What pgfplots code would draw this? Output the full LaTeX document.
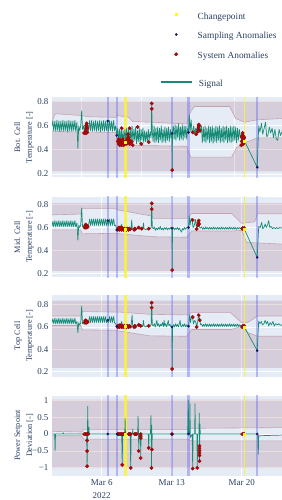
\documentclass[border=0pt]{standalone}
\usepackage{fontspec}
\setmainfont{Liberation Serif}
\usepackage{pgfplots}
\pgfplotsset{compat=1.18}
\usepgfplotslibrary{fillbetween}
\definecolor{plotbg}{HTML}{E5ECF6}
\definecolor{darkov}{RGB}{150,90,110}
\definecolor{bandln}{RGB}{196,164,176}
\definecolor{sigc}{RGB}{22,140,118}
\definecolor{sysc}{RGB}{160,10,10}
\definecolor{smpc}{RGB}{20,20,110}
\definecolor{cpc}{RGB}{255,255,0}
\definecolor{vblue}{RGB}{100,100,240}
\definecolor{vyel}{RGB}{255,245,40}
\definecolor{txt}{HTML}{2A3F5F}
\pgfplotsset{
 panel/.style={
  scale only axis, width=230bp, anchor=north west,
  xmin=0.03, xmax=23.03,
  axis background/.style={fill=plotbg},
  axis line style={draw=none},
  major tick length=0pt,
  grid=major, grid style={white, line width=0.9bp},
  tick label style={font=\fontsize{9}{10}\selectfont, text=txt},
  every axis y label/.style={at={(axis description cs:-0.1217,0.5)}, rotate=90, anchor=center, align=center, font=\fontsize{8.3}{12}\selectfont, text=txt},
  xtick={5,12,19}, xticklabels={},
  ytick={0.2,0.4,0.6,0.8}, yticklabels={0.2,0.4,0.6,0.8},
  clip=true,
 },
 sig/.style={color=sigc, line width=0.7bp, line join=round, mark=none},
 sys/.style={only marks, mark=*, mark size=1.7bp, color=sysc},
 smp/.style={only marks, mark=*, mark size=1.1bp, color=smpc},
 cp/.style={only marks, mark=square*, mark size=1bp, color=cpc},
 bl/.style={color=bandln, line width=0.6bp, mark=none},
 dk/.style={fill=darkov, fill opacity=0.2, draw=none},
 leg/.style={draw=none, fill=none, inner sep=0pt, outer sep=0pt, row sep=10.8bp, column sep=6bp, font=\fontsize{9.4}{11}\selectfont, text=txt, nodes={inner sep=0pt, text height=6.5bp, text depth=2.5bp}},
}
\newcommand{\vb}[4]{\addplot[fill=#3, fill opacity=#4, draw=none, forget plot] coordinates {(#1,-5) (#2,-5) (#2,5) (#1,5)};}
\newcommand{\vbands}{%
 \vb{5.5}{5.72}{vblue}{0.4}%
 \vb{6.44}{6.66}{vblue}{0.4}%
 \vb{7.26}{7.48}{vyel}{0.8}%
 \vb{11.92}{12.14}{vblue}{0.4}%
 \vb{13.57}{13.79}{vblue}{0.4}%
 \vb{19.2}{19.33}{vyel}{0.8}%
 \vb{20.44}{20.66}{vblue}{0.4}%
}
\begin{document}
\begin{tikzpicture}
% ---------------- Panel 1 ----------------
\begin{axis}[panel, at={(52bp,-97.3bp)}, height=80bp, ymin=0.173, ymax=0.836,
  xtick={3,9,18.3},
  ylabel={Bot. Cell\\Temperature [-]},
  legend style={leg, at={(axis description cs:0.4726,2.058)}, anchor=north west},
  legend cell align=left,
  legend image code/.code={\path[draw=none, fill=none] (0bp,0bp) -- (31bp,0bp); \path[#1, draw=none] plot[only marks] coordinates {(15.5bp,2.5bp)};}]
\addlegendimage{cp}\addlegendentry{Changepoint}
\addlegendimage{smp}\addlegendentry{Sampling Anomalies}
\addlegendimage{sys}\addlegendentry{System Anomalies}
\addplot[draw=none, name path=T1, forget plot] coordinates {(0.03,0.805) (23.03,0.805)};
\addplot[draw=none, name path=B1, forget plot] coordinates {(0.03,0.222) (23.03,0.222)};
\addplot[bl, name path=U1, forget plot] coordinates {(0.03,0.63)(0.35,0.70)(3.0,0.685)(3.6,0.675)(6.4,0.67)(6.55,0.685)(7.7,0.67)(8.1,0.635)(10.0,0.63)(13.5,0.615)(13.9,0.72)(14.3,0.76)(17.8,0.76)(18.4,0.66)(19.3,0.63)(20.6,0.65)(23.03,0.66)};
\addplot[bl, name path=L1, forget plot] coordinates {(0.03,0.555)(3.0,0.548)(6.4,0.545)(6.6,0.44)(13.5,0.43)(13.9,0.34)(18.0,0.34)(18.5,0.42)(19.3,0.46)(20.6,0.5)(23.03,0.5)};
\addplot[dk, forget plot] fill between[of=T1 and U1];
\addplot[dk, forget plot] fill between[of=L1 and B1];
\vbands
\addplot[sig, forget plot] coordinates {
(0.03,0.60) (0.12,0.64) (0.2,0.56) (0.32,0.64) (0.4,0.555) (0.52,0.645) (0.6,0.56) (0.72,0.64) (0.8,0.55) (0.92,0.64) (1.0,0.56) (1.12,0.645) (1.2,0.555) (1.32,0.64) (1.4,0.56) (1.52,0.64) (1.6,0.545) (1.72,0.645) (1.8,0.56) (1.92,0.64) (2.0,0.555) (2.12,0.64) (2.2,0.56) (2.32,0.645) (2.4,0.555) (2.52,0.63) (2.62,0.41) (2.7,0.6) (2.8,0.56) (2.9,0.6) (3.0,0.725) (3.08,0.57) (3.18,0.6) (3.28,0.54) (3.38,0.62) (3.48,0.55) (3.58,0.62) (3.68,0.555)
(3.8,0.645) (3.88,0.56) (4.0,0.645) (4.08,0.555) (4.2,0.64) (4.28,0.56) (4.4,0.645) (4.48,0.555) (4.6,0.64) (4.68,0.56) (4.8,0.645) (4.88,0.55) (5.0,0.64) (5.08,0.56) (5.2,0.645) (5.28,0.555) (5.4,0.64) (5.48,0.56) (5.61,0.64) (5.68,0.555) (5.8,0.645) (5.88,0.56) (6.0,0.64) (6.08,0.555) (6.2,0.645) (6.28,0.56) (6.4,0.6) (6.5,0.52)
(6.6,0.58) (6.68,0.47) (6.78,0.57) (6.86,0.46) (6.96,0.58) (7.04,0.47) (7.14,0.56) (7.22,0.46) (7.32,0.57) (7.4,0.48) (7.5,0.58) (7.58,0.45) (7.68,0.58) (7.76,0.46) (7.86,0.57) (7.94,0.47) (8.04,0.6) (8.12,0.46) (8.22,0.57) (8.3,0.48) (8.4,0.59) (8.48,0.45) (8.58,0.56) (8.66,0.47) (8.76,0.58) (8.84,0.45) (8.94,0.57) (9.02,0.48) (9.12,0.58) (9.2,0.46) (9.3,0.56) (9.38,0.47) (9.48,0.55) (9.56,0.47) (9.66,0.57) (9.74,0.48) (9.84,0.55) (9.94,0.5) (10.0,0.785) (10.06,0.55) (10.14,0.47) (10.24,0.6) (10.32,0.46) (10.42,0.58) (10.5,0.47) (10.6,0.59) (10.68,0.46) (10.78,0.58) (10.86,0.48) (10.96,0.6) (11.04,0.46) (11.14,0.57) (11.22,0.47) (11.32,0.59) (11.4,0.46) (11.5,0.58) (11.58,0.48) (11.68,0.59) (11.76,0.47) (11.86,0.57) (11.94,0.5)
(12.03,0.537) (12.05,0.233) (12.08,0.55)
(12.16,0.6) (12.24,0.49) (12.34,0.61) (12.42,0.48) (12.52,0.6) (12.6,0.5) (12.7,0.62) (12.78,0.48) (12.88,0.59) (12.96,0.49) (13.06,0.61) (13.14,0.48) (13.24,0.6) (13.32,0.5) (13.42,0.6) (13.5,0.49) (13.6,0.58) (13.68,0.545)
(13.76,0.69) (13.84,0.55) (13.94,0.65) (14.02,0.56) (14.1,0.545) (14.2,0.6) (14.3,0.53) (14.4,0.58) (14.48,0.53) (14.58,0.61) (14.68,0.55) (14.78,0.6) (14.88,0.545)
(14.98,0.6) (15.06,0.46) (15.16,0.59) (15.24,0.47) (15.34,0.6) (15.42,0.46) (15.52,0.58) (15.6,0.48) (15.7,0.6) (15.78,0.46) (15.88,0.59) (15.96,0.47) (16.06,0.6) (16.14,0.455) (16.24,0.58) (16.32,0.47) (16.42,0.6) (16.5,0.46) (16.6,0.59) (16.68,0.48) (16.78,0.6) (16.86,0.46) (16.96,0.58) (17.04,0.47) (17.14,0.6) (17.22,0.46) (17.32,0.59) (17.4,0.48) (17.5,0.6) (17.58,0.46) (17.68,0.58) (17.76,0.47) (17.86,0.6) (17.94,0.46) (18.04,0.59) (18.12,0.47) (18.22,0.6) (18.3,0.48) (18.4,0.59) (18.48,0.46) (18.58,0.58) (18.66,0.48) (18.76,0.57) (18.86,0.5)
(18.96,0.53) (19.06,0.44) (19.16,0.52) (19.27,0.476) (20.55,0.256)
(20.7,0.6) (20.82,0.55) (20.98,0.62) (21.1,0.53) (21.22,0.57) (21.38,0.63) (21.5,0.51) (21.62,0.52) (21.76,0.59) (21.9,0.54) (22.04,0.58) (22.18,0.5) (22.32,0.57) (22.46,0.49) (22.6,0.48) (22.74,0.57) (22.88,0.52) (23.03,0.55)};
\addplot[sys, forget plot] coordinates {
(3.25,0.54)(3.35,0.54)(3.45,0.54)(3.55,0.545)(3.4,0.56)(3.45,0.58)(3.45,0.6)(3.5,0.62)(3.5,0.6)(3.55,0.58)
(6.6,0.47)(6.7,0.45)(6.7,0.49)(6.8,0.44)(6.8,0.47)(6.9,0.45)(6.9,0.48)(7.0,0.44)(7.0,0.47)(7.1,0.45)(7.1,0.49)(7.2,0.44)(7.2,0.47)(7.3,0.46)(7.45,0.45)(7.5,0.48)(7.6,0.46)(7.6,0.5)(7.65,0.53)(7.7,0.47)(7.7,0.5)(7.8,0.45)(7.8,0.48)(7.9,0.46)(8.0,0.47)
(7.0,0.58)(7.8,0.58)(8.6,0.59)(8.1,0.44)(8.95,0.45)(9.7,0.465)(10.0,0.785)(10.0,0.74)(12.05,0.233)
(14.1,0.545)(14.45,0.53)(14.6,0.55)(14.65,0.57)(14.7,0.59)(14.7,0.61)(14.75,0.6)(14.8,0.56)
(18.95,0.44)(19.0,0.47)(19.05,0.5)(19.1,0.52)(19.15,0.45)(19.2,0.48)(19.2,0.51)(19.25,0.5)(19.0,0.51)(19.1,0.54)(19.05,0.445)(19.15,0.49)};
\addplot[smp, forget plot] coordinates {(5.61,0.64)(6.5,0.52)(12.03,0.537)(13.68,0.545)(20.55,0.256)};
\addplot[cp, forget plot] coordinates {(7.37,0.46)(19.27,0.476)};
\end{axis}
% ---------------- Panel 2 ----------------
\begin{axis}[panel, at={(52bp,-196.7bp)}, height=80.6bp, ymin=0.167, ymax=0.868,
  ylabel={Mid. Cell\\Temperature [-]},
  legend style={leg, at={(axis description cs:0.4726,2.448)}, anchor=north west},
  legend cell align=left,
  legend image code/.code={\draw[#1, line width=1.2bp] (0bp,2.5bp) -- (31bp,2.5bp);}]
\addlegendimage{sig}\addlegendentry{Signal}
\addplot[draw=none, name path=T2, forget plot] coordinates {(0.03,0.813) (23.03,0.813)};
\addplot[draw=none, name path=B2, forget plot] coordinates {(0.03,0.222) (23.03,0.222)};
\addplot[bl, name path=U2, forget plot] coordinates {(0.03,0.71)(2.9,0.717)(3.05,0.767)(6.3,0.767)(6.6,0.753)(10.0,0.7)(10.15,0.68)(13.5,0.68)(14.0,0.722)(18.0,0.722)(19.0,0.636)(20.3,0.65)(20.6,0.72)(23.03,0.72)};
\addplot[bl, name path=L2, forget plot] coordinates {(0.03,0.58)(2.9,0.58)(3.05,0.545)(6.3,0.55)(10.0,0.52)(13.5,0.515)(14.0,0.57)(18.0,0.57)(19.0,0.575)(19.5,0.47)(23.03,0.456)};
\addplot[dk, forget plot] fill between[of=T2 and U2];
\addplot[dk, forget plot] fill between[of=L2 and B2];
\vbands
\addplot[sig, forget plot] coordinates {
(0.03,0.61) (0.12,0.655) (0.2,0.607) (0.32,0.66) (0.4,0.605) (0.52,0.655) (0.6,0.607) (0.72,0.66) (0.8,0.605) (0.92,0.655) (1.0,0.607) (1.12,0.66) (1.2,0.605) (1.32,0.655) (1.4,0.607) (1.52,0.66) (1.6,0.605) (1.72,0.655) (1.8,0.607) (1.92,0.66) (2.0,0.605) (2.12,0.655) (2.2,0.607) (2.32,0.66) (2.4,0.605) (2.52,0.64) (2.62,0.49) (2.7,0.62) (2.8,0.6) (2.9,0.62) (3.0,0.77) (3.08,0.61) (3.18,0.6) (3.28,0.63) (3.38,0.6) (3.48,0.625) (3.58,0.605) (3.68,0.62)
(3.8,0.675) (3.88,0.618) (4.0,0.675) (4.08,0.62) (4.2,0.675) (4.28,0.618) (4.4,0.675) (4.48,0.62) (4.6,0.675) (4.68,0.618) (4.8,0.675) (4.88,0.62) (5.0,0.675) (5.08,0.618) (5.2,0.675) (5.28,0.62) (5.4,0.675) (5.48,0.618) (5.61,0.66) (5.68,0.62) (5.8,0.675) (5.88,0.618) (6.0,0.675) (6.08,0.62) (6.2,0.675) (6.28,0.618) (6.4,0.62) (6.5,0.578)
(6.6,0.59) (6.7,0.58) (6.8,0.595) (6.9,0.585) (7.0,0.63) (7.06,0.59) (7.2,0.585) (7.35,0.595) (7.5,0.585) (7.65,0.59) (7.8,0.58) (7.94,0.59) (8.0,0.665) (8.06,0.59) (8.2,0.585) (8.35,0.6) (8.5,0.585) (8.65,0.595) (8.8,0.585) (8.95,0.59) (9.1,0.585) (9.18,0.64) (9.24,0.59) (9.4,0.58) (9.55,0.59) (9.7,0.585) (9.85,0.59) (9.94,0.6) (10.0,0.81) (10.06,0.6) (10.16,0.59) (10.26,0.605) (10.36,0.575) (10.46,0.595) (10.56,0.58) (10.66,0.6) (10.76,0.585) (10.86,0.61) (10.96,0.58) (11.06,0.595) (11.16,0.578) (11.26,0.6) (11.36,0.585) (11.46,0.6) (11.56,0.58) (11.66,0.595) (11.76,0.585) (11.86,0.6) (11.94,0.59) (12.03,0.593) (12.05,0.23) (12.08,0.59)
(12.18,0.6) (12.28,0.58) (12.38,0.595) (12.48,0.585) (12.58,0.6) (12.68,0.58) (12.78,0.595) (12.88,0.575) (12.98,0.56) (13.08,0.59) (13.18,0.58) (13.28,0.6) (13.38,0.585) (13.5,0.6) (13.68,0.6) (13.75,0.7) (13.84,0.62) (13.94,0.68) (14.04,0.665) (14.14,0.6) (14.26,0.62) (14.38,0.67) (14.5,0.587) (14.6,0.62) (14.7,0.66) (14.8,0.6) (14.9,0.595)
(15.0,0.605) (15.1,0.585) (15.2,0.6) (15.3,0.585) (15.4,0.605) (15.5,0.588) (15.6,0.6) (15.7,0.585) (15.8,0.603) (15.9,0.586) (16.0,0.6) (16.1,0.585) (16.2,0.605) (16.3,0.587) (16.4,0.6) (16.5,0.585) (16.6,0.603) (16.7,0.586) (16.8,0.6) (16.9,0.585) (17.0,0.605) (17.1,0.587) (17.2,0.6) (17.3,0.585) (17.4,0.603) (17.5,0.586) (17.6,0.6) (17.7,0.585) (17.8,0.605) (17.9,0.587) (18.0,0.6) (18.1,0.585) (18.2,0.603) (18.3,0.586) (18.4,0.6) (18.5,0.585) (18.6,0.6) (18.7,0.588) (18.8,0.6) (18.9,0.59) (19.0,0.59) (19.1,0.595) (19.2,0.59) (19.27,0.585) (20.55,0.34)
(20.7,0.61) (20.85,0.6) (21.0,0.645) (21.1,0.59) (21.22,0.6) (21.35,0.63) (21.46,0.6) (21.58,0.62) (21.7,0.66) (21.8,0.6) (21.94,0.61) (22.08,0.59) (22.22,0.6) (22.36,0.59) (22.5,0.6) (22.64,0.59) (22.8,0.6) (23.03,0.595)};
\addplot[sys, forget plot] coordinates {
(3.3,0.6)(3.35,0.615)(3.4,0.6)(3.45,0.61)(3.5,0.6)(3.55,0.615)(3.6,0.605)(3.4,0.625)
(6.6,0.58)(6.65,0.595)(6.7,0.585)(6.75,0.6)(6.8,0.58)(6.85,0.59)(6.9,0.6)(6.95,0.585)(7.0,0.58)(7.05,0.595)(7.1,0.585)(7.2,0.58)(7.25,0.59)(7.45,0.585)(7.5,0.58)(7.55,0.59)(7.65,0.585)(7.7,0.58)(7.75,0.59)(7.85,0.585)(8.25,0.58)(8.3,0.59)(8.35,0.585)
(8.7,0.6)(9.0,0.59)(9.7,0.59)(10.0,0.81)(10.0,0.76)(12.05,0.23)(14.1,0.665)(14.5,0.587)(14.62,0.62)(14.66,0.64)(14.7,0.66)(14.74,0.63)
(19.05,0.59)(19.1,0.595)(19.15,0.585)(19.2,0.59)(19.25,0.595)};
\addplot[smp, forget plot] coordinates {(5.61,0.66)(6.5,0.578)(12.03,0.593)(13.68,0.6)(20.55,0.34)};
\addplot[cp, forget plot] coordinates {(7.37,0.585)(19.27,0.585)};
\end{axis}
% ---------------- Panel 3 ----------------
\begin{axis}[panel, at={(52bp,-295bp)}, height=81.7bp, ymin=0.15, ymax=0.89,
  ylabel={Top Cell\\Temperature [-]}]
\addplot[draw=none, name path=T3, forget plot] coordinates {(0.03,0.84) (23.03,0.84)};
\addplot[draw=none, name path=B3, forget plot] coordinates {(0.03,0.23) (23.03,0.23)};
\addplot[bl, name path=U3, forget plot] coordinates {(0.03,0.7)(2.9,0.7)(3.05,0.74)(6.8,0.735)(9.8,0.715)(13.5,0.71)(14.0,0.73)(17.9,0.73)(19.0,0.638)(19.6,0.64)(20.6,0.7)(23.03,0.7)};
\addplot[bl, name path=L3, forget plot] coordinates {(0.03,0.614)(2.9,0.614)(3.05,0.575)(6.3,0.57)(9.8,0.52)(13.5,0.516)(14.0,0.578)(18.0,0.578)(19.0,0.61)(19.6,0.55)(20.6,0.516)(23.03,0.516)};
\addplot[dk, forget plot] fill between[of=T3 and U3];
\addplot[dk, forget plot] fill between[of=L3 and B3];
\vbands
\addplot[sig, forget plot] coordinates {
(0.03,0.64) (0.12,0.675) (0.2,0.63) (0.32,0.68) (0.4,0.628) (0.52,0.675) (0.6,0.63) (0.72,0.68) (0.8,0.628) (0.92,0.675) (1.0,0.63) (1.12,0.68) (1.2,0.628) (1.32,0.675) (1.4,0.63) (1.52,0.68) (1.6,0.628) (1.72,0.675) (1.8,0.63) (1.92,0.68) (2.0,0.628) (2.12,0.675) (2.2,0.63) (2.32,0.68) (2.4,0.628) (2.52,0.65) (2.62,0.55) (2.7,0.64) (2.8,0.62) (2.9,0.635) (3.0,0.79) (3.08,0.63) (3.18,0.64) (3.28,0.66) (3.38,0.64) (3.48,0.655) (3.58,0.64) (3.68,0.65)
(3.8,0.695) (3.88,0.64) (4.0,0.695) (4.08,0.642) (4.2,0.695) (4.28,0.64) (4.4,0.695) (4.48,0.642) (4.6,0.695) (4.68,0.64) (4.8,0.695) (4.88,0.642) (5.0,0.695) (5.08,0.64) (5.2,0.695) (5.28,0.642) (5.4,0.695) (5.48,0.64) (5.61,0.662) (5.68,0.642) (5.8,0.695) (5.88,0.64) (6.0,0.695) (6.08,0.642) (6.2,0.695) (6.28,0.64) (6.4,0.63) (6.5,0.607)
(6.6,0.615) (6.7,0.605) (6.8,0.62) (6.9,0.608) (7.0,0.65) (7.06,0.61) (7.2,0.605) (7.35,0.615) (7.5,0.605) (7.65,0.612) (7.8,0.6) (7.94,0.612) (8.04,0.71) (8.1,0.61) (8.2,0.605) (8.35,0.62) (8.5,0.605) (8.65,0.615) (8.8,0.605) (8.95,0.612) (9.1,0.605) (9.18,0.66) (9.24,0.61) (9.4,0.6) (9.55,0.612) (9.7,0.605) (9.85,0.615) (9.94,0.62) (10.0,0.82) (10.06,0.62) (10.16,0.61) (10.26,0.63) (10.36,0.6) (10.46,0.64) (10.52,0.66) (10.58,0.61) (10.68,0.63) (10.78,0.6) (10.88,0.625) (10.98,0.61) (11.08,0.64) (11.18,0.605) (11.24,0.66) (11.3,0.61) (11.4,0.63) (11.5,0.6) (11.6,0.64) (11.66,0.66) (11.72,0.61) (11.82,0.625) (11.94,0.6) (12.03,0.6) (12.05,0.22) (12.08,0.6)
(12.18,0.62) (12.28,0.6) (12.38,0.63) (12.48,0.605) (12.58,0.625) (12.68,0.6) (12.78,0.64) (12.84,0.66) (12.9,0.61) (13.0,0.6) (13.1,0.625) (13.2,0.605) (13.3,0.63) (13.4,0.6) (13.5,0.62) (13.68,0.607) (13.78,0.71) (13.88,0.64) (13.98,0.7) (14.08,0.69) (14.18,0.63) (14.3,0.66) (14.42,0.64) (14.5,0.6) (14.6,0.65) (14.7,0.707) (14.8,0.662) (14.9,0.62)
(15.0,0.625) (15.1,0.605) (15.2,0.625) (15.3,0.606) (15.4,0.63) (15.5,0.605) (15.6,0.625) (15.7,0.606) (15.8,0.628) (15.9,0.605) (16.0,0.625) (16.1,0.606) (16.2,0.63) (16.3,0.605) (16.4,0.625) (16.5,0.606) (16.6,0.628) (16.7,0.605) (16.8,0.625) (16.9,0.606) (17.0,0.63) (17.1,0.605) (17.2,0.625) (17.3,0.606) (17.4,0.628) (17.5,0.605) (17.6,0.625) (17.7,0.606) (17.8,0.63) (17.9,0.605) (18.0,0.625) (18.1,0.606) (18.2,0.628) (18.3,0.605) (18.4,0.625) (18.5,0.606) (18.6,0.628) (18.7,0.605) (18.8,0.62) (18.9,0.61) (19.0,0.605) (19.1,0.61) (19.2,0.605) (19.27,0.6) (20.55,0.386)
(20.7,0.653) (20.82,0.63) (20.96,0.65) (21.08,0.62) (21.22,0.63) (21.34,0.66) (21.46,0.63) (21.58,0.65) (21.7,0.61) (21.84,0.64) (21.98,0.62) (22.12,0.65) (22.26,0.61) (22.4,0.63) (22.56,0.62) (22.72,0.63) (22.88,0.615) (23.03,0.62)};
\addplot[sys, forget plot] coordinates {
(3.3,0.64)(3.35,0.655)(3.4,0.64)(3.45,0.655)(3.5,0.64)(3.55,0.65)(3.6,0.645)(3.4,0.66)
(6.6,0.6)(6.65,0.612)(6.7,0.603)(6.75,0.615)(6.8,0.6)(6.85,0.61)(6.9,0.615)(6.95,0.603)(7.0,0.6)(7.05,0.612)(7.1,0.603)(7.2,0.6)(7.25,0.61)(7.45,0.603)(7.5,0.6)(7.55,0.61)(7.65,0.603)(7.7,0.6)(7.75,0.61)(7.85,0.603)(8.25,0.6)(8.3,0.61)(8.35,0.603)
(8.7,0.62)(8.9,0.61)(9.7,0.61)(10.0,0.82)(10.0,0.775)(12.05,0.22)(14.1,0.69)(14.5,0.6)(14.7,0.707)(14.8,0.662)
(19.05,0.6)(19.1,0.61)(19.15,0.6)(19.2,0.605)(19.25,0.61)};
\addplot[smp, forget plot] coordinates {(5.61,0.662)(6.5,0.607)(12.03,0.6)(13.68,0.607)(20.55,0.386)};
\addplot[cp, forget plot] coordinates {(7.37,0.603)(19.27,0.6)};
\end{axis}
% ---------------- Panel 4 ----------------
\begin{axis}[panel, at={(52bp,-395.5bp)}, height=80bp, ymin=-1.226, ymax=1.14,
  ytick={-1,-0.5,0,0.5,1}, yticklabels={−1,−0.5,0,0.5,1},
  xticklabels={{Mar 6\\2022},{Mar 13},{Mar 20}},
  xticklabel style={align=center, font=\fontsize{9}{13}\selectfont, yshift=-1bp},
  ylabel={Power Setpoint\\Deviation [-]}]
\addplot[draw=none, name path=T4, forget plot] coordinates {(0.03,1.02) (23.03,1.02)};
\addplot[draw=none, name path=B4, forget plot] coordinates {(0.03,-1.01) (23.03,-1.01)};
\addplot[bl, name path=U4, forget plot] coordinates {(0.03,0.08)(3.0,0.06)(3.2,0.13)(13.5,0.13)(14.0,0.17)(23.03,0.19)};
\addplot[bl, name path=L4, forget plot] coordinates {(0.03,-0.05)(3.0,-0.05)(3.2,-0.15)(13.5,-0.15)(14.0,-0.2)(23.03,-0.2)};
\addplot[dk, forget plot] fill between[of=T4 and U4];
\addplot[dk, forget plot] fill between[of=L4 and B4];
\vbands
\addplot[sig, forget plot] coordinates {
(0.03,0.0) (0.3,0.0) (0.34,-0.5) (0.38,0.0) (1.1,0.0) (1.15,0.04) (1.2,0.0) (3.5,0.0) (3.54,-0.95) (3.58,0.0) (3.6,0.82) (3.64,0.0) (3.72,0.2) (3.76,0.0) (7.0,0.0) (7.05,-0.91) (7.1,0.0) (7.3,0.0) (7.34,0.46) (7.38,0.0) (7.85,0.0) (7.9,-1.0) (7.95,0.0) (8.08,0.0) (8.1,0.15) (8.14,0.0) (8.6,0.0) (8.64,0.53) (8.68,0.0) (8.7,-0.5) (8.75,0.0) (8.88,0.0) (8.9,-0.71) (8.94,0.0) (9.66,0.0) (9.7,-0.41) (9.74,0.0) (9.88,0.0) (9.92,0.55) (9.96,0.0) (9.98,-1.0) (10.0,0.26) (10.02,-0.46) (10.06,0.0) (13.6,0.0) (13.66,1.0) (13.7,0.0) (13.8,0.0) (13.83,0.9) (13.86,-0.1) (14.05,0.0) (14.1,-1.02) (14.14,0.0) (14.3,0.0) (14.33,0.9) (14.37,0.0) (14.52,0.0) (14.56,-1.0) (14.6,0.0) (14.72,0.0) (14.76,0.62) (14.78,-0.8) (14.82,0.3) (14.86,0.0) (20.6,0.0) (20.66,-0.6) (20.7,-0.05) (23.03,-0.03)};
\addplot[sys, forget plot] coordinates {
(3.25,0)(3.35,0)(3.45,0)(3.55,0)(3.65,0)(3.54,-0.19)(3.54,-0.5)(3.54,-0.95)
(6.6,0)(6.7,0)(6.8,0)(6.9,0)(7.0,0)(7.1,0)(7.2,0)(7.3,0)(7.7,0)(7.8,0)(7.9,0)(8.3,0)(8.4,0)(8.5,0)(8.9,0)(8.9,-0.06)(8.9,-0.12)
(7.05,-0.91)(7.9,-1.0)(8.7,-0.5)(8.9,-0.71)(9.7,-0.41)(10.02,-0.46)(9.98,-1.0)(12.03,0)
(14.1,-1.02)(14.56,-1.0)(14.78,-0.35)(14.78,-0.42)(14.78,-0.49)(14.78,-0.56)(14.78,-0.63)(14.78,-0.8)
(19.05,0)(19.15,0)(19.25,0)};
\addplot[smp, forget plot] coordinates {(5.61,0)(6.55,0)(12.03,0)(13.68,0)(20.55,0)};
\addplot[cp, forget plot] coordinates {(7.37,0)(19.27,0)};
\end{axis}
\pgfresetboundingbox
\path[use as bounding box] (0,0) rectangle (282bp,-500bp);
\end{tikzpicture}
\end{document}
